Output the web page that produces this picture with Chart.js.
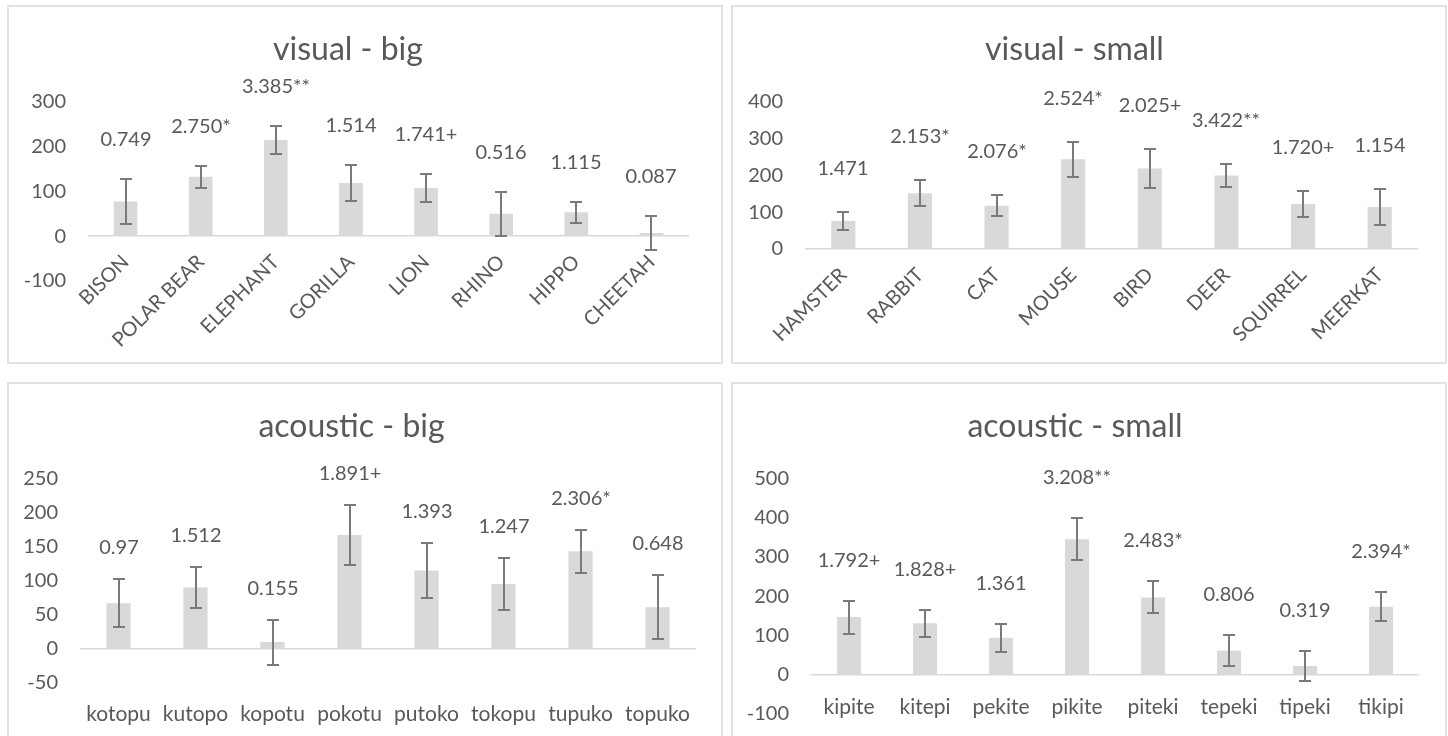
<!DOCTYPE html>
<html>
<head>
<meta charset="utf-8">
<script src="https://cdn.jsdelivr.net/npm/chart.js@4.4.1/dist/chart.umd.min.js"></script>
<style>
  html, body { margin: 0; padding: 0; background: #fff; overflow: hidden; }
  .frame { position: absolute; box-sizing: border-box; border: 2px solid #e2e2e2; }
  canvas { position: absolute; }
</style>
</head>
<body>
<div class="frame" style="left:7px;top:5px;width:716px;height:359px"></div>
<div class="frame" style="left:731px;top:5px;width:716px;height:359px"></div>
<div class="frame" style="left:7px;top:382px;width:716px;height:366px"></div>
<div class="frame" style="left:731px;top:382px;width:716px;height:366px"></div>
<canvas id="visualBig" width="716" height="359" style="left:7px;top:5px"></canvas>
<canvas id="visualSmall" width="716" height="359" style="left:731px;top:5px"></canvas>
<canvas id="acousticBig" width="716" height="366" style="left:7px;top:382px"></canvas>
<canvas id="acousticSmall" width="716" height="366" style="left:731px;top:382px"></canvas>
<script>
// visual - big
var visualBigLabels = ['BISON', 'POLAR BEAR', 'ELEPHANT', 'GORILLA', 'LION', 'RHINO', 'HIPPO', 'CHEETAH'];
var visualBigMeans = [77, 132, 214, 118, 107, 50, 53, 7];
var visualBigErrors = [51, 25, 32, 40, 32, 49, 24, 38];
var visualBigStats = ['0.749', '2.750*', '3.385**', '1.514', '1.741+', '0.516', '1.115', '0.087'];

// visual - small
var visualSmallLabels = ['HAMSTER', 'RABBIT', 'CAT', 'MOUSE', 'BIRD', 'DEER', 'SQUIRREL', 'MEERKAT'];
var visualSmallMeans = [76, 151, 117, 243, 218, 199, 122, 114];
var visualSmallErrors = [25, 35, 28, 48, 54, 30, 35, 49];
var visualSmallStats = ['1.471', '2.153*', '2.076*', '2.524*', '2.025+', '3.422**', '1.720+', '1.154'];

// acoustic - big
var acousticBigLabels = ['kotopu', 'kutopo', 'kopotu', 'pokotu', 'putoko', 'tokopu', 'tupuko', 'topuko'];
var acousticBigMeans = [67, 90, 10, 167, 115, 95, 143, 61];
var acousticBigErrors = [35, 30, 33, 44, 41, 38, 31, 47];
var acousticBigStats = ['0.97', '1.512', '0.155', '1.891+', '1.393', '1.247', '2.306*', '0.648'];

// acoustic - small
var acousticSmallLabels = ['kipite', 'kitepi', 'pekite', 'pikite', 'piteki', 'tepeki', 'tipeki', 'tikipi'];
var acousticSmallMeans = [147, 131, 94, 345, 197, 61, 22, 173];
var acousticSmallErrors = [42, 35, 35, 54, 41, 40, 38, 37];
var acousticSmallStats = ['1.792+', '1.828+', '1.361', '3.208**', '2.483*', '0.806', '0.319', '2.394*'];

Chart.defaults.font.family = 'Lato, "Open Sans", sans-serif';
Chart.defaults.font.size = 20;
Chart.defaults.color = '#595959';

// error bars plus the t value written above each bar
var errorBarPlugin = {
    id: 'errorBars',
    afterDatasetsDraw: function (chart, args, opts) {
        var ctx = chart.ctx;
        var yScale = chart.scales.y;
        var ds = chart.data.datasets[0];
        var meta = chart.getDatasetMeta(0);
        ctx.save();
        ctx.strokeStyle = '#7a7a7a';
        ctx.lineWidth = 2;
        ctx.fillStyle = '#595959';
        ctx.font = '20px ' + Chart.defaults.font.family;
        ctx.textAlign = 'center';
        ctx.textBaseline = 'middle';
        meta.data.forEach(function (bar, i) {
            var top = Math.round(yScale.getPixelForValue(ds.data[i] + ds.errors[i]));
            var bottom = Math.round(yScale.getPixelForValue(ds.data[i] - ds.errors[i]));
            var x = Math.round(bar.x);
            ctx.beginPath();
            ctx.moveTo(x, top);
            ctx.lineTo(x, bottom);
            ctx.moveTo(x - 6, top);
            ctx.lineTo(x + 6, top);
            ctx.moveTo(x - 6, bottom);
            ctx.lineTo(x + 6, bottom);
            ctx.stroke();
            ctx.fillText(ds.stats[i], x, top - opts.labelGap);
        });
        ctx.restore();
    }
};

function makePanel(id, title, labels, means, errors, stats, o) {
    var ctx = document.getElementById(id).getContext('2d');
    return new Chart(ctx, {
        type: 'bar',
        data: {
            labels: labels,
            datasets: [{
                data: means,
                errors: errors,
                stats: stats,
                backgroundColor: '#d9d9d9',
                categoryPercentage: 1,
                barPercentage: 0.315
            }]
        },
        options: {
            responsive: false,
            animation: false,
            layout: {
                padding: { left: 0, right: o.padRight, top: 0, bottom: o.padBottom }
            },
            plugins: {
                legend: { display: false },
                tooltip: { enabled: false },
                title: {
                    display: true,
                    text: title,
                    color: '#595959',
                    font: { size: 32, weight: 'normal' },
                    padding: { top: 25, bottom: 33 }
                },
                errorBars: { labelGap: o.labelGap }
            },
            scales: {
                x: {
                    position: { y: o.axisAt },
                    grid: { display: false },
                    border: { display: false },
                    ticks: {
                        autoSkip: false,
                        minRotation: o.rotation,
                        maxRotation: o.rotation,
                        padding: o.tickPad,
                        font: { size: o.tickSize }
                    }
                },
                y: {
                    min: o.min,
                    max: o.max,
                    afterFit: function (scale) { scale.width = o.left; },
                    border: { display: false },
                    grid: {
                        drawTicks: false,
                        lineWidth: 1.5,
                        color: function (c) { return c.tick && c.tick.value === 0 ? '#d9d9d9' : 'rgba(0,0,0,0)'; }
                    },
                    ticks: { stepSize: o.step, padding: 22 }
                }
            }
        },
        plugins: [errorBarPlugin]
    });
}

makePanel('visualBig', 'visual - big', visualBigLabels, visualBigMeans, visualBigErrors, visualBigStats,
    { min: -100, max: 300, step: 100, axisAt: 0, rotation: 45, tickPad: 6, tickSize: 20, left: 81, padRight: 34, padBottom: 83, labelGap: 39 });
makePanel('visualSmall', 'visual - small', visualSmallLabels, visualSmallMeans, visualSmallErrors, visualSmallStats,
    { min: 0, max: 400, step: 100, axisAt: 0, rotation: 45, tickPad: 6, tickSize: 20, left: 74, padRight: 29, padBottom: 115, labelGap: 43 });
makePanel('acousticBig', 'acoustic - big', acousticBigLabels, acousticBigMeans, acousticBigErrors, acousticBigStats,
    { min: -50, max: 250, step: 50, axisAt: -50, rotation: 0, tickPad: 11, tickSize: 21, left: 73, padRight: 27, padBottom: 65, labelGap: 31 });
makePanel('acousticSmall', 'acoustic - small', acousticSmallLabels, acousticSmallMeans, acousticSmallErrors, acousticSmallStats,
    { min: -100, max: 500, step: 100, axisAt: 0, rotation: 0, tickPad: 12, tickSize: 21, left: 80, padRight: 28, padBottom: 34, labelGap: 40 });
</script>
</body>
</html>
